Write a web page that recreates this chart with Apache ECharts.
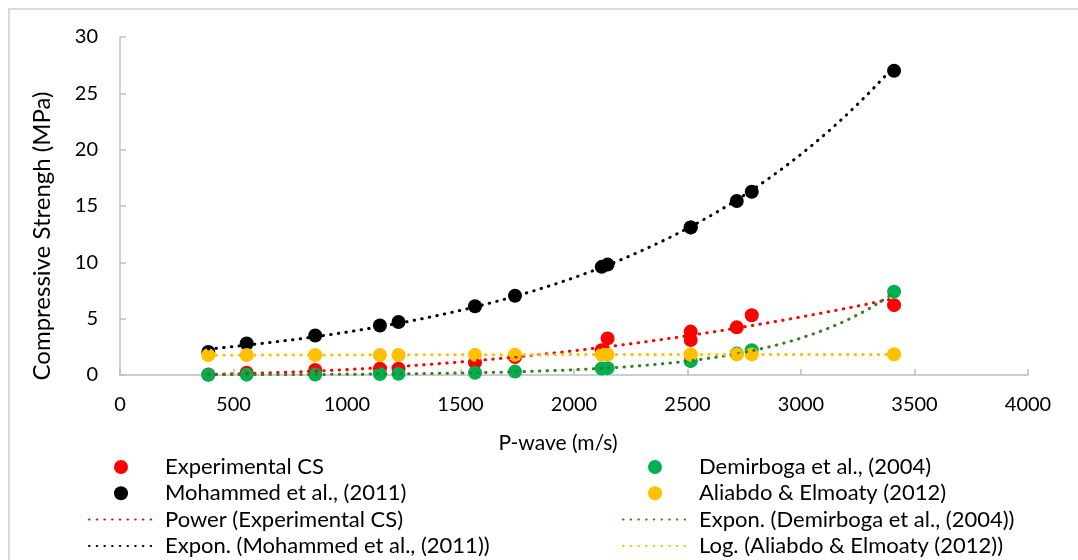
<!DOCTYPE html>
<html>
<head>
<meta charset="utf-8">
<script src="https://cdn.jsdelivr.net/npm/echarts@6/dist/echarts.min.js"></script>
<style>
  html, body { margin: 0; padding: 0; background: #fff; }
  #chart { width: 1078px; height: 560px; }
</style>
</head>
<body>
<div id="chart"></div>
<script>
// ---- Data ----
const pWave          = [389, 558, 860, 1145, 1227, 1564, 1740, 2122, 2148, 2514, 2514, 2717, 2783, 3410];
const experimentalCS = [0.05, 0.20, 0.45, 0.55, 0.55, 1.10, 1.60, 2.20, 3.25, 3.10, 3.85, 4.23, 5.30, 6.20];
const demirboga2004  = [0.02, 0.03, 0.05, 0.08, 0.10, 0.20, 0.30, 0.58, 0.61, 1.25, 1.25, 1.90, 2.20, 7.40];
const mohammed2011   = [2.05, 2.80, 3.50, 4.40, 4.70, 6.10, 7.04, 9.60, 9.80, 13.10, 13.10, 15.44, 16.27, 27.00];
const aliabdo2012    = [1.76, 1.77, 1.77, 1.78, 1.78, 1.79, 1.80, 1.81, 1.81, 1.82, 1.82, 1.83, 1.83, 1.84];

const seriesNames = ['Experimental CS', 'Demirboga et al., (2004)', 'Mohammed et al., (2011)', 'Aliabdo & Elmoaty (2012)'];
const trendNames  = ['Power (Experimental CS)', 'Expon. (Demirboga et al., (2004))', 'Expon. (Mohammed et al., (2011))', 'Log. (Aliabdo & Elmoaty (2012))'];
const xAxisTitle = 'P-wave (m/s)';
const yAxisTitle = 'Compressive Strengh (MPa)';

// ---- Least-squares trendlines (as Excel computes them) ----
function linFit(xs, ys) {
  const n = xs.length;
  let sx = 0, sy = 0, sxx = 0, sxy = 0;
  for (let i = 0; i < n; i++) { sx += xs[i]; sy += ys[i]; sxx += xs[i] * xs[i]; sxy += xs[i] * ys[i]; }
  const b = (n * sxy - sx * sy) / (n * sxx - sx * sx);
  const a = (sy - b * sx) / n;
  return { a, b };
}
function expFit(xs, ys) { const f = linFit(xs, ys.map(Math.log)); return x => Math.exp(f.a + f.b * x); }
function powFit(xs, ys) { const f = linFit(xs.map(Math.log), ys.map(Math.log)); return x => Math.exp(f.a) * Math.pow(x, f.b); }
function logFit(xs, ys) { const f = linFit(xs.map(Math.log), ys); return x => f.a + f.b * Math.log(x); }
function sample(fn, xs) {
  const lo = Math.min(...xs), hi = Math.max(...xs), out = [];
  const steps = 80;
  for (let i = 0; i <= steps; i++) { const x = lo + (hi - lo) * i / steps; out.push([x, fn(x)]); }
  return out;
}
const pairs = ys => pWave.map((x, i) => [x, ys[i]]);

const FONT = 'Lato, "Open Sans", sans-serif';
const markerColors = ['#ff0000', '#00b050', '#000000', '#ffc000'];
const trendColors  = ['#ff0000', '#3a7d22', '#000000', '#ffc000'];
const valuesList = [experimentalCS, demirboga2004, mohammed2011, aliabdo2012];
const fitters = [powFit, expFit, expFit, logFit];

const series = [];
valuesList.forEach((vals, i) => {
  series.push({
    name: seriesNames[i], type: 'scatter', data: pairs(vals),
    symbol: 'circle', symbolSize: 14,
    itemStyle: { color: markerColors[i], opacity: 1 },
    emphasis: { disabled: true }
  });
});
valuesList.forEach((vals, i) => {
  series.push({
    name: trendNames[i], type: 'line', data: sample(fitters[i](pWave, vals), pWave),
    symbol: 'none', showSymbol: false, smooth: false,
    lineStyle: { color: trendColors[i], width: 3, type: [0.5, 7.2], cap: 'round' },
    itemStyle: { color: trendColors[i] },
    emphasis: { disabled: true }
  });
});

const legendCommon = {
  orient: 'vertical', itemWidth: 64, itemHeight: 14, itemGap: 4.3, padding: 0, height: 200,
  textStyle: { fontFamily: FONT, fontSize: 22, color: '#000', lineHeight: 22, padding: [0, 0, 0, 7] },
  selectedMode: false
};
const lineItem = name => ({ name: name, itemStyle: { opacity: 0 } });

const chart = echarts.init(document.getElementById('chart'), null, { renderer: 'canvas' });
chart.setOption({
  animation: false,
  backgroundColor: '#ffffff',
  grid: { left: 120, right: 50, top: 37, bottom: 185, containLabel: false },
  xAxis: {
    type: 'value', min: 0, max: 4000, interval: 500,
    axisLine: { show: true, onZero: false, lineStyle: { color: '#bfbfbf', width: 1.5 } },
    axisTick: { show: true, inside: true, length: 6, lineStyle: { color: '#bfbfbf', width: 1.5 } },
    splitLine: { show: false },
    axisLabel: { fontFamily: FONT, fontSize: 20, color: '#000', margin: 20, formatter: v => String(v) }
  },
  yAxis: {
    type: 'value', min: 0, max: 30, interval: 5,
    axisLine: { show: true, lineStyle: { color: '#bfbfbf', width: 1.5 } },
    axisTick: { show: true, inside: true, length: 6, lineStyle: { color: '#bfbfbf', width: 1.5 } },
    splitLine: { show: false },
    axisLabel: { fontFamily: FONT, fontSize: 20, color: '#000', margin: 22, formatter: v => String(v) }
  },
  legend: [
    Object.assign({}, legendCommon, { left: 88, top: 456,
      data: [seriesNames[0], seriesNames[2], lineItem(trendNames[0]), lineItem(trendNames[2])] }),
    Object.assign({}, legendCommon, { left: 622, top: 456,
      data: [seriesNames[1], seriesNames[3], lineItem(trendNames[1]), lineItem(trendNames[3])] })
  ],
  graphic: [
    { type: 'rect', silent: true, z: -1,
      shape: { x: 9, y: 9, width: 1200, height: 700 },
      style: { fill: null, stroke: '#d9d9d9', lineWidth: 2 } },
    { type: 'text', silent: true, x: 558, y: 443,
      style: { text: xAxisTitle, font: '21px ' + FONT, fill: '#000', textAlign: 'center', textVerticalAlign: 'middle' } },
    { type: 'text', silent: true, x: 42, y: 236, rotation: Math.PI / 2,
      style: { text: yAxisTitle, font: '24px ' + FONT, fill: '#000', textAlign: 'center', textVerticalAlign: 'middle' } }
  ],
  series: series
});
</script>
</body>
</html>
